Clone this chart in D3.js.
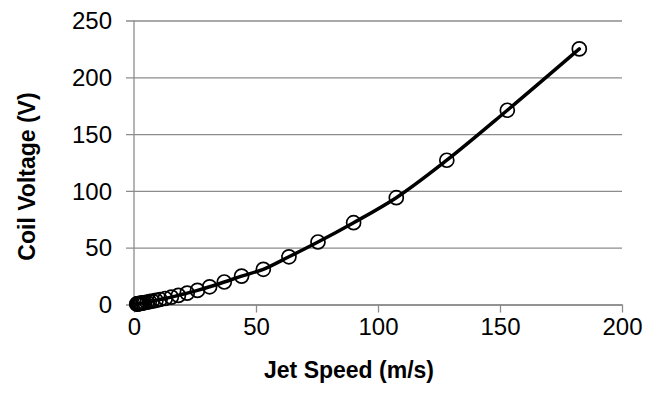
<!DOCTYPE html>
<html>
<head>
<meta charset="utf-8">
<script src="https://cdn.jsdelivr.net/npm/d3@7"></script>
<style>
    html, body { margin: 0; padding: 0; background: #fff; }
    svg { display: block; font-family: "Liberation Sans", Arial, sans-serif; }
</style>
</head>
<body>
<div id="chart"></div>
<script>
// Jet speed (m/s) vs coil voltage (V)
var jetSpeed = [182.5, 153.0, 128.2, 107.5, 90.0, 75.4, 63.5, 53.0, 44.1, 37.0,
    31.0, 26.0, 21.8, 18.2, 15.3, 12.8, 10.7, 9.0, 7.5, 6.3,
    5.3, 4.4, 3.7, 3.1, 2.6, 2.2, 1.8, 1.5, 1.3, 1.1];
var coilVoltage = [225, 171, 127, 94, 72, 55, 42, 31, 25, 19.8,
    15.6, 12.4, 10.0, 8.0, 6.5, 5.3, 4.4, 3.6, 3.0, 2.5,
    2.0, 1.7, 1.4, 1.2, 1.0, 0.8, 0.7, 0.55, 0.5, 0.4];
var xTicks = [0, 50, 100, 150, 200];
var yTicks = [0, 50, 100, 150, 200, 250];

(function () {
    "use strict";

    var W = 647, H = 395;
    var margin = { top: 20.5, right: 25, bottom: 90.5, left: 134 };
    var width = W - margin.left - margin.right;
    var height = H - margin.top - margin.bottom;

    var svg = d3.select("#chart").append("svg")
        .attr("width", W)
        .attr("height", H);

    var g = svg.append("g")
        .attr("transform", "translate(" + margin.left + "," + margin.top + ")");

    var x = d3.scaleLinear().domain([0, 200]).range([0, width]);
    var y = d3.scaleLinear().domain([0, 250]).range([height, 0]);

    var data = jetSpeed.map(function (v, i) {
        return { x: v, y: coilVoltage[i] };
    }).sort(function (a, b) { return a.x - b.x; });

    // horizontal gridlines + left ticks
    g.append("g")
        .call(d3.axisLeft(y).tickValues(yTicks).tickSize(-width).tickFormat(""))
        .call(function (s) {
            s.select(".domain").remove();
            s.selectAll("line").attr("stroke", "#8c8c8c").attr("stroke-width", 1.3)
                .attr("x1", -8);
        });

    // y axis line
    g.append("line")
        .attr("x1", 0).attr("x2", 0)
        .attr("y1", 0).attr("y2", height)
        .attr("stroke", "#8c8c8c").attr("stroke-width", 1.3);

    // x axis
    var xa = g.append("g")
        .attr("transform", "translate(0," + height + ")")
        .call(d3.axisBottom(x).tickValues(xTicks).tickSize(8).tickSizeOuter(0).tickPadding(5));
    xa.select(".domain").attr("stroke", "#8c8c8c").attr("stroke-width", 1.3);
    xa.selectAll("line").attr("stroke", "#8c8c8c").attr("stroke-width", 1.3);
    xa.selectAll("text")
        .attr("font-size", "24px")
        .attr("fill", "#000")
        .attr("font-family", "Liberation Sans, Arial, sans-serif");

    // y labels
    g.append("g").selectAll("text")
        .data(yTicks)
        .enter().append("text")
        .attr("x", -22)
        .attr("y", function (d) { return y(d); })
        .attr("dy", "0.36em")
        .attr("text-anchor", "end")
        .attr("font-size", "24px")
        .attr("fill", "#000")
        .text(function (d) { return d; });

    // curve
    var line = d3.line()
        .x(function (d) { return x(d.x); })
        .y(function (d) { return y(d.y); })
        .curve(d3.curveMonotoneX);

    g.append("path")
        .datum(data)
        .attr("d", line)
        .attr("fill", "none")
        .attr("stroke", "#000")
        .attr("stroke-width", 3.5)
        .attr("stroke-linecap", "round");

    // markers
    g.append("g").selectAll("circle")
        .data(data)
        .enter().append("circle")
        .attr("cx", function (d) { return x(d.x); })
        .attr("cy", function (d) { return y(d.y); })
        .attr("r", 7)
        .attr("fill", "none")
        .attr("stroke", "#000")
        .attr("stroke-width", 1.7);

    // axis titles
    svg.append("text")
        .attr("x", 349)
        .attr("y", 378)
        .attr("text-anchor", "middle")
        .attr("font-size", "23px")
        .attr("font-weight", "bold")
        .text("Jet Speed (m/s)");

    svg.append("text")
        .attr("transform", "translate(35," + (margin.top + height / 2 + 14) + ") rotate(-90)")
        .attr("text-anchor", "middle")
        .attr("font-size", "23px")
        .attr("font-weight", "bold")
        .text("Coil Voltage (V)");
})();
</script>
</body>
</html>
